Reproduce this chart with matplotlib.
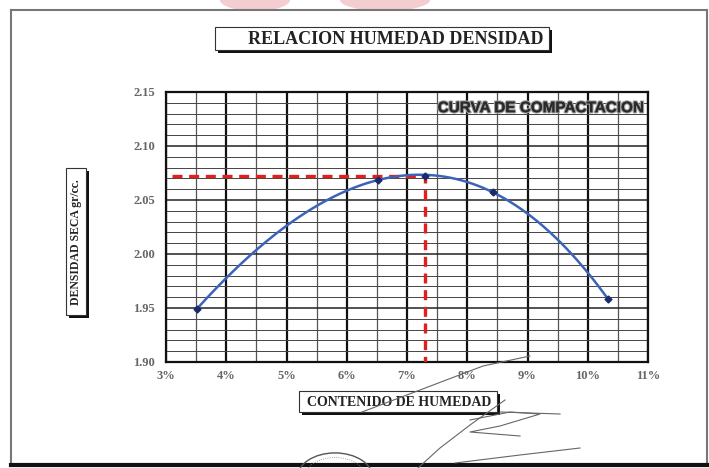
import numpy as np
import matplotlib
matplotlib.use("Agg")
import matplotlib.pyplot as plt
from matplotlib.lines import Line2D
from matplotlib.patches import Rectangle, Ellipse, Circle
from matplotlib.ticker import MultipleLocator, FuncFormatter
import matplotlib.patheffects as pe

# Proctor test results
moisture = [3.51, 6.52, 8.43, 10.34]          # water content, %
dry_density = [1.949, 2.0685, 2.057, 1.958]   # dry density, g/cc
opt_moisture = 7.30                            # optimum moisture content, %
max_density = 2.072                            # maximum dry density, g/cc

x_ticks = [3, 4, 5, 6, 7, 8, 9, 10, 11]
y_ticks = [1.90, 1.95, 2.00, 2.05, 2.10, 2.15]

W, H = 709, 468
fig = plt.figure(figsize=(W / 100, H / 100), dpi=100)
fig.patch.set_facecolor("white")


def fx(px):
    return px / W


def fy(py):
    return 1 - py / H


ax = fig.add_axes([fx(166), fy(362), fx(648) - fx(166), fy(92) - fy(362)])
ax.set_xlim(3, 11)
ax.set_ylim(1.90, 2.15)

# grid: heavy lines every 1 %, light every 0.5 %; horizontal every 0.01
ax.xaxis.set_major_locator(MultipleLocator(1))
ax.xaxis.set_minor_locator(MultipleLocator(0.5))
ax.yaxis.set_major_locator(MultipleLocator(0.05))
ax.yaxis.set_minor_locator(MultipleLocator(0.01))
ax.grid(which="major", axis="x", color="#111111", lw=1.6)
ax.grid(which="minor", axis="x", color="#555555", lw=0.9)
ax.grid(which="major", axis="y", color="#222222", lw=1.1)
ax.grid(which="minor", axis="y", color="#444444", lw=0.7)
ax.set_axisbelow(True)

ax.set_xticks(x_ticks)
ax.set_yticks(y_ticks)
ax.xaxis.set_major_formatter(FuncFormatter(lambda v, p: f"{v:.0f}%"))
ax.yaxis.set_major_formatter(FuncFormatter(lambda v, p: f"{v:.2f}"))
ax.tick_params(which="both", length=0, labelsize=9, labelcolor="#666666")
ax.tick_params(axis="y", pad=8)
ax.tick_params(axis="x", pad=6)
for lab in ax.get_xticklabels() + ax.get_yticklabels():
    lab.set_fontfamily("Liberation Serif")
    lab.set_fontweight("bold")
for s in ax.spines.values():
    s.set_color("#111111")
    s.set_linewidth(1.6)

# compaction curve fitted through the test points
coef = np.polyfit(moisture, dry_density, 3)
xs = np.linspace(min(moisture), max(moisture), 300)
ax.plot(xs, np.polyval(coef, xs), color="#3d63b8", lw=1.8, zorder=4)
ax.plot(moisture, dry_density, ls="none", marker="D", ms=3.5,
        color="#1a2a6a", zorder=5)

# optimum moisture / maximum dry density guides
ax.plot([3.1, opt_moisture, opt_moisture], [max_density, max_density, 1.90],
        color="#e0201c", lw=2.4, ls=(0, (3, 2)), zorder=3)
ax.plot([opt_moisture], [max_density], marker="D", ms=3.5,
        color="#1a2a6a", zorder=5)

ax.text(10.92, 2.135, "CURVA DE COMPACTACION", ha="right", va="center",
        fontsize=11, fontweight="bold", family="Liberation Sans",
        color="#2a2a2a", zorder=6,
        path_effects=[pe.withStroke(linewidth=1.8, foreground="#9a9a9a"),
                      pe.Normal()])


def boxed_label(x0, y0, x1, y1, text, tx, ty, size, rotation=0):
    """Label inside a framed box with a solid drop shadow (pixel coords)."""
    fig.add_artist(Rectangle((fx(x0) + 3 / W, fy(y1) - 3 / H), fx(x1) - fx(x0),
                             fy(y0) - fy(y1), transform=fig.transFigure,
                             fc="#111111", ec="none", zorder=1))
    fig.add_artist(Rectangle((fx(x0), fy(y1)), fx(x1) - fx(x0), fy(y0) - fy(y1),
                             transform=fig.transFigure, fc="white",
                             ec="#333333", lw=0.8, zorder=2))
    fig.text(fx(tx), fy(ty), text, ha="center", va="center", rotation=rotation,
             fontsize=size, fontweight="bold", family="Liberation Serif",
             color="#222222", zorder=3)


boxed_label(215, 27, 549, 50, "RELACION HUMEDAD DENSIDAD", 396, 39, 13)
boxed_label(66, 168, 86, 315, "DENSIDAD SECA gr/cc.", 76.5, 242, 8.5, rotation=90)
boxed_label(299, 391, 497, 412, "CONTENIDO DE HUMEDAD", 399, 402, 10)

# page frame
frame_gray = "#777777"
fig.add_artist(Line2D([fx(11), fx(707)], [fy(10), fy(10)], color=frame_gray, lw=1.5))
fig.add_artist(Line2D([fx(11), fx(11)], [fy(10), fy(465)], color=frame_gray, lw=1.5))
fig.add_artist(Line2D([fx(707), fx(707)], [fy(10), fy(465)], color=frame_gray, lw=1.5))
fig.add_artist(Line2D([fx(11), fx(709)], [fy(465), fy(465)], color="#111111", lw=3))

# faint letterhead logo above the frame
for cx, w in [(255, 70), (385, 90)]:
    fig.add_artist(Ellipse((fx(cx), fy(0)), w / W, 22 / H, transform=fig.transFigure,
                           fc="#f4cdd1", ec="none", zorder=0))

# stamp and signature strokes at the foot of the sheet
fig.add_artist(Circle((fx(335), fy(478)), 38 / W, transform=fig.transFigure,
                      fc="none", ec="#555555", lw=1.0, zorder=4))
fig.add_artist(Circle((fx(335), fy(478)), 31 / W, transform=fig.transFigure,
                      fc="none", ec="#888888", lw=0.6, ls=":", zorder=4))
sig_strokes = [
    ([362, 420, 483, 530], [412, 390, 366, 356]),
    ([505, 470, 440, 418], [400, 425, 448, 468]),
    ([470, 510, 540, 500, 470, 520], [420, 412, 414, 426, 432, 436]),
    ([500, 560], [412, 414]),
    ([455, 520, 580], [463, 455, 448]),
]
for xs_s, ys_s in sig_strokes:
    fig.add_artist(Line2D([fx(v) for v in xs_s], [fy(v) for v in ys_s],
                          color="#666666", lw=0.8, zorder=4))

fig.savefig("out.png", dpi=100, facecolor="white")
